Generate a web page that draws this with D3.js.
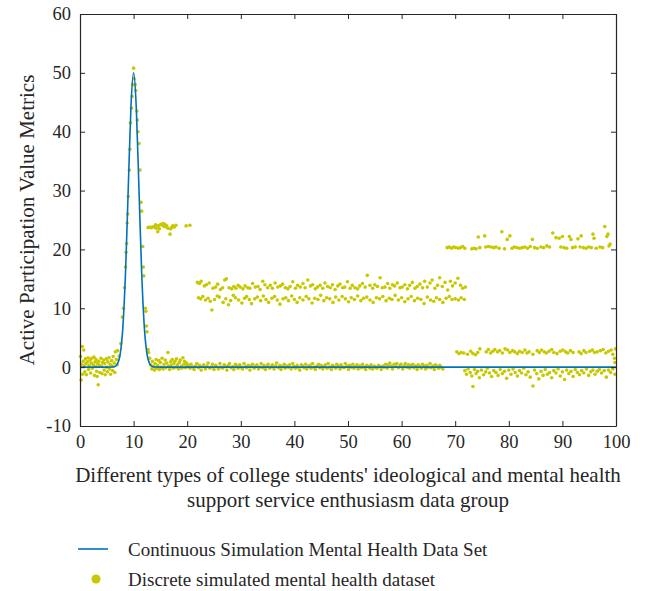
<!DOCTYPE html>
<html>
<head>
<meta charset="utf-8">
<script src="https://cdn.jsdelivr.net/npm/d3@7"></script>
<style>
  body { margin: 0; background: #fff; }
  svg text { font-family: "Liberation Serif", "DejaVu Serif", serif; fill: #262626; }
</style>
</head>
<body>
<div id="chart"></div>
<script>
// axis ranges and tick values
const xTicks = [0, 10, 20, 30, 40, 50, 60, 70, 80, 90, 100];
const yTicks = [-10, 0, 10, 20, 30, 40, 50, 60];
const xTitle = ["Different types of college students' ideological and mental health",
                "support service enthusiasm data group"];
const yTitle = "Active Participation Value Metrics";
const legendLabels = ["Continuous Simulation Mental Health Data Set",
                      "Discrete simulated mental health dataset"];

// continuous curve
const curveX = [0, 5, 6, 6.5, 7, 7.5, 8, 8.5, 9, 9.5, 10, 10.5, 11, 11.5, 12, 12.5, 13, 13.5, 14, 15, 100];
const curveY = [0, 0, 0.02, 0.11, 0.55, 2.2, 6.8, 16.2, 30.3, 44.1, 50, 44.1, 30.3, 16.2, 6.8, 2.2, 0.55, 0.11, 0.02, 0, 0];

// discrete points, grouped by region
const noiseStart = [[0.1,1.8],[0.2,-2.2],[0.3,0.5],[0.4,3.5],[0.5,-1.2],[0.6,1.0],[0.7,2.9],[0.8,0.2],[0.9,-0.8],[1.0,1.4],[1.1,0.6],[1.2,-1.3],[1.4,0.9],[1.5,1.6],[1.6,-0.4],[1.7,0.3],[1.9,1.2],[2.0,-1.0],[2.1,0.7],[2.2,1.5],[2.3,-0.2],[2.5,0.4],[2.6,1.7],[2.7,-1.4],[2.8,0.9],[2.9,0.1],[3.0,1.3],[3.1,-0.7],[3.2,-1.6],[3.3,0.6],[3.4,-3.0],[3.5,1.0],[3.6,0.3],[3.7,-0.9],[3.9,1.5],[4.0,0.2],[4.1,-1.1],[4.2,0.8],[4.4,1.2],[4.5,-0.5],[4.6,0.6],[4.7,-1.3],[4.9,1.4],[5.0,0.0],[5.1,-0.8],[5.2,0.9],[5.4,1.6],[5.5,-0.3],[5.6,0.5],[5.7,-1.2],[5.9,1.1],[6.0,0.2],[6.1,-0.6],[6.2,1.8],[6.4,0.7],[6.5,-0.9],[6.6,2.6],[6.8,1.3],[6.9,0.4]];

const peakPoints = [[7.0,2.8],[7.3,1.9],[7.6,4.0],[7.9,8.5],[8.1,10.0],[8.3,13.5],[8.5,17.0],[8.6,19.5],[8.7,21.0],[8.8,24.5],[8.9,26.0],[9.0,29.0],[9.2,33.5],[9.3,37.0],[9.4,41.5],[9.6,44.0],[9.7,46.0],[9.8,48.0],[10.0,50.8],[10.1,49.0],[10.3,48.0],[10.4,47.0],[10.6,43.5],[10.7,42.0],[10.8,40.0],[11.0,38.0],[11.2,33.5],[11.4,28.0],[11.5,26.5],[11.7,20.5],[11.8,17.0],[11.9,15.5],[12.2,10.0],[12.3,9.5],[12.4,7.0],[12.5,6.0],[12.7,3.0],[12.8,2.5],[13.0,1.5]];

const noiseAfter = [[13.2,0.4],[13.4,-0.3],[13.5,1.0],[13.7,0.1],[13.9,-0.5],[14.0,0.6],[14.2,1.3],[14.3,-0.2],[14.5,0.3],[14.7,1.1],[14.8,-0.4],[15.0,0.8],[15.2,0.0],[15.3,1.5],[15.5,-0.3],[15.7,0.5],[15.9,1.2],[16.0,-0.1],[16.2,0.7],[16.4,2.5],[16.5,0.2],[16.7,-0.4],[16.9,0.9],[17.0,0.3],[17.2,1.3],[17.4,-0.2],[17.5,0.6],[17.7,1.0],[17.9,0.0],[18.0,1.4],[18.2,0.4],[18.4,-0.3],[18.5,0.8],[18.7,1.2],[18.9,0.2],[19.0,-0.2],[19.2,1.6],[19.4,0.5],[19.5,1.0],[19.7,-0.1],[19.9,0.7],[20.0,0.3]];

const flatPoints = [[20.2,0.3],[20.5,-0.2],[20.7,0.5],[21.0,0.0],[21.3,-0.4],[21.5,0.2],[21.8,0.6],[22.1,-0.1],[22.3,0.3],[22.6,-0.5],[22.9,0.1],[23.1,0.4],[23.4,-0.3],[23.7,0.2],[23.9,0.7],[24.2,-0.2],[24.5,0.0],[24.7,0.5],[25.0,-0.4],[25.3,0.3],[25.5,0.1],[25.8,-0.3],[26.1,0.6],[26.3,0.0],[26.6,-0.2],[26.9,0.4],[27.1,0.2],[27.4,-0.5],[27.7,0.3],[27.9,0.6],[28.2,-0.1],[28.5,0.1],[28.7,-0.4],[29.0,0.5],[29.3,0.2],[29.5,-0.2],[29.8,0.4],[30.1,0.0],[30.3,-0.3],[30.6,0.6],[30.9,0.1],[31.1,-0.1],[31.4,0.3],[31.7,-0.5],[31.9,0.2],[32.2,0.5],[32.5,-0.2],[32.7,0.1],[33.0,0.4],[33.3,-0.3],[33.5,0.0],[33.8,0.6],[34.1,-0.1],[34.3,0.3],[34.6,-0.4],[34.9,0.2],[35.1,0.5],[35.4,-0.2],[35.7,0.1],[35.9,0.4],[36.2,-0.3],[36.5,0.2],[36.7,0.7],[37.0,-0.1],[37.3,0.3],[37.5,-0.4],[37.8,0.1],[38.1,0.5],[38.3,-0.2],[38.6,0.2],[38.9,0.0],[39.1,0.4],[39.4,-0.3],[39.7,0.6],[39.9,0.1],[40.2,-0.2],[40.5,0.3],[40.7,0.0],[41.0,-0.5],[41.3,0.4],[41.5,0.2],[41.8,-0.1],[42.1,0.5],[42.3,-0.3],[42.6,0.1],[42.9,0.3],[43.1,-0.2],[43.4,0.6],[43.7,0.0],[43.9,-0.4],[44.2,0.2],[44.5,0.5],[44.7,-0.1],[45.0,0.3],[45.3,-0.3],[45.5,0.1],[45.8,0.4],[46.1,-0.2],[46.3,0.6],[46.6,0.0],[46.9,-0.4],[47.1,0.3],[47.4,0.1],[47.7,-0.2],[47.9,0.5],[48.2,0.2],[48.5,-0.3],[48.7,0.4],[49.0,0.0],[49.3,-0.1],[49.5,0.6],[49.8,0.2],[50.1,-0.4],[50.3,0.3],[50.6,0.0],[50.9,0.5],[51.1,-0.2],[51.4,0.1],[51.7,0.4],[51.9,-0.3],[52.2,0.2],[52.5,-0.1],[52.7,0.5],[53.0,0.0],[53.3,-0.4],[53.5,0.3],[53.8,0.1],[54.1,-0.2],[54.3,0.4],[54.6,-0.3],[54.9,0.2],[55.1,0.0],[55.4,-0.2],[55.7,0.3],[55.9,0.1],[56.2,-0.4],[56.5,0.2],[56.7,0.0],[57.0,0.5],[57.3,-0.2],[57.5,0.4],[57.8,0.7],[58.1,0.2],[58.3,-0.3],[58.6,0.5],[58.9,0.1],[59.1,0.6],[59.4,-0.1],[59.7,0.3],[59.9,0.5],[60.2,-0.3],[60.5,0.2],[60.7,0.6],[61.0,0.0],[61.3,0.4],[61.5,-0.2],[61.8,0.3],[62.1,0.5],[62.3,-0.1],[62.6,0.2],[62.9,-0.4],[63.1,0.4],[63.4,0.1],[63.7,-0.2],[63.9,0.5],[64.2,0.2],[64.5,-0.3],[64.7,0.3],[65.0,0.0],[65.3,0.6],[65.5,-0.1],[65.8,0.2],[66.1,-0.4],[66.3,0.4],[66.6,0.1],[66.9,-0.2],[67.1,0.3],[67.4,0.0],[67.7,-0.3]];

const cluster24 = [[12.7,23.7],[13.0,23.8],[13.3,23.7],[13.6,23.8],[13.9,23.9],[14.1,24.2],[14.2,23.6],[14.5,23.0],[14.6,24.0],[14.8,23.5],[15.0,24.2],[15.2,24.3],[15.4,24.1],[15.6,24.4],[15.7,23.9],[15.9,24.2],[16.1,23.8],[16.2,24.0],[16.4,23.6],[16.8,22.6],[16.9,23.5],[17.1,23.7],[17.3,24.0],[17.6,23.8],[17.9,24.1],[19.8,24.0],[20.5,24.1]];

const band13 = [[21.9,14.4],[22.3,14.2],[22.6,14.6],[23.2,13.8],[23.6,14.0],[24.1,14.3],[24.8,13.4],[25.3,13.6],[25.7,14.1],[26.2,13.2],[26.6,13.5],[27.0,14.8],[27.3,15.0],[27.8,13.5],[28.3,13.3],[28.7,13.7],[29.1,13.4],[29.5,13.9],[29.9,13.6],[30.4,13.3],[30.8,13.8],[31.3,13.5],[31.7,13.4],[32.2,14.2],[32.7,13.6],[33.2,13.7],[33.6,13.2],[34.1,14.6],[34.5,14.0],[35.0,13.5],[35.5,13.9],[35.9,13.4],[36.4,14.3],[36.9,13.6],[37.4,13.8],[37.8,14.1],[38.3,13.5],[38.8,13.3],[39.2,13.7],[39.7,14.5],[40.2,13.4],[40.6,13.9],[41.1,13.6],[41.6,14.2],[42.0,13.5],[42.5,14.8],[43.0,13.8],[43.4,14.0],[43.9,13.3],[44.3,13.6],[44.8,13.9],[45.3,13.4],[45.7,14.3],[46.2,13.7],[46.7,13.5],[47.1,14.0],[47.6,13.2],[48.1,13.8],[48.5,14.1],[49.0,13.5],[49.4,13.6],[49.9,14.5],[50.4,13.4],[50.8,13.9],[51.3,13.5],[51.8,13.3],[52.2,13.8],[52.7,14.2],[53.2,13.6],[53.6,15.6],[54.1,13.9],[54.6,13.4],[55.0,14.0],[55.5,13.7],[56.0,15.2],[56.4,13.5],[56.9,13.6],[57.4,14.2],[57.8,13.4],[58.3,14.0],[58.7,13.8],[59.2,14.3],[59.7,13.5],[60.1,13.6],[60.6,14.0],[61.1,13.3],[61.5,13.9],[62.0,14.4],[62.5,13.4],[62.9,13.7],[63.4,14.1],[63.9,13.5],[64.3,14.6],[64.8,13.6],[65.3,14.3],[65.7,14.8],[66.2,13.4],[66.7,13.9],[67.1,15.2],[67.6,13.7],[68.1,14.4],[68.6,13.1],[69.1,14.6],[69.5,13.8],[70.0,14.3],[70.5,15.1],[71.0,13.9],[71.4,13.4],[71.9,13.6]];

const band11 = [[22.1,11.8],[22.5,11.6],[22.9,12.0],[23.4,11.4],[23.9,11.7],[24.3,11.2],[24.6,9.7],[25.1,11.5],[25.6,12.1],[26.0,11.9],[26.7,11.0],[27.2,11.6],[27.7,10.6],[28.1,11.3],[28.6,12.2],[29.0,11.8],[29.6,11.4],[30.2,10.9],[30.7,11.7],[31.1,12.0],[31.6,11.5],[32.0,10.8],[32.6,11.6],[33.1,11.9],[33.7,11.3],[34.2,12.1],[34.7,11.5],[35.2,11.0],[35.8,11.7],[36.3,12.0],[36.8,11.4],[37.3,10.7],[37.9,11.6],[38.4,11.8],[38.9,11.3],[39.5,12.1],[40.0,11.5],[40.5,11.0],[41.0,11.8],[41.6,11.4],[42.2,12.0],[42.7,11.6],[43.3,10.9],[43.8,11.7],[44.4,11.5],[44.9,12.2],[45.5,11.3],[46.0,11.8],[46.6,11.6],[47.2,11.0],[47.7,11.9],[48.3,11.4],[48.9,12.0],[49.5,11.6],[50.1,11.1],[50.6,11.8],[51.2,11.5],[51.8,12.1],[52.4,11.3],[52.9,11.7],[53.5,11.9],[54.1,11.4],[54.7,11.0],[55.3,11.8],[55.9,11.6],[56.5,12.0],[57.1,11.3],[57.7,11.7],[58.2,11.5],[58.8,12.2],[59.4,11.4],[60.0,11.8],[60.6,11.1],[61.2,11.6],[61.8,12.0],[62.4,11.3],[63.0,11.7],[63.6,11.5],[64.2,10.8],[64.8,11.9],[65.4,11.4],[66.0,11.2],[66.5,11.8],[67.1,11.5],[67.7,11.0],[68.3,11.7],[68.9,12.0],[69.4,11.5],[70.0,11.6],[70.6,11.4],[71.1,11.8],[71.7,11.5]];

const band20 = [[68.5,20.3],[68.9,20.4],[69.3,20.2],[69.7,20.4],[70.1,20.3],[70.6,20.2],[71.0,20.3],[71.4,20.5],[71.8,20.2],[73.1,20.1],[73.5,20.2],[73.9,20.1],[74.3,22.1],[74.6,20.3],[75.5,22.3],[75.7,20.4],[76.2,20.5],[76.7,20.4],[77.2,20.3],[77.6,20.4],[78.2,20.2],[78.7,23.0],[79.2,20.1],[79.7,21.7],[80.2,22.3],[80.6,20.2],[81.0,20.4],[81.5,20.3],[82.0,20.2],[82.5,20.3],[83.0,20.4],[83.5,20.2],[84.0,20.5],[84.4,21.7],[84.8,20.3],[85.3,20.2],[86.0,20.4],[86.5,20.3],[87.1,20.6],[87.6,20.4],[88.2,22.8],[88.8,22.0],[89.4,21.9],[90.0,22.2],[89.7,20.4],[90.3,20.3],[90.8,20.2],[91.3,22.2],[91.6,21.7],[91.9,20.3],[92.4,20.4],[92.9,21.8],[93.5,22.3],[93.3,20.4],[93.9,20.3],[94.4,20.2],[94.9,20.4],[95.4,20.3],[95.7,22.6],[95.9,21.9],[96.3,20.2],[97.0,20.4],[97.5,20.3],[97.9,23.9],[98.3,22.2],[98.5,22.6],[98.7,20.6],[98.9,20.9]];

const band2 = [[70.3,2.6],[70.7,2.3],[71.1,2.5],[71.6,2.4],[72.3,2.2],[72.9,2.7],[73.3,2.3],[73.8,2.1],[74.2,2.5],[74.6,3.1],[75.8,2.6],[76.2,3.0],[76.6,2.4],[77.0,2.7],[77.4,3.0],[77.9,2.6],[78.3,2.8],[78.8,2.4],[79.3,3.1],[79.8,2.9],[80.2,2.5],[80.7,2.8],[81.1,2.6],[81.6,2.3],[82.0,2.7],[82.5,2.5],[83.0,2.9],[83.4,2.4],[83.8,2.6],[84.5,2.2],[85.3,2.8],[85.7,2.5],[86.1,2.9],[86.6,2.6],[87.0,2.4],[87.5,2.7],[88.0,3.0],[88.4,2.5],[89.0,2.3],[89.6,2.7],[90.1,2.9],[90.6,2.6],[91.0,2.4],[91.5,2.8],[92.0,2.5],[93.1,2.6],[93.5,2.3],[94.0,2.8],[94.4,2.5],[95.1,2.7],[95.6,2.9],[96.0,2.5],[96.5,2.6],[97.1,2.8],[97.6,3.0],[98.1,2.4],[98.6,2.7],[99.1,2.9],[99.4,2.2],[99.7,1.5],[99.8,0.8],[99.9,3.1]];

const bandNeg = [[71.8,-0.6],[72.1,-1.2],[72.4,-0.3],[72.8,-0.9],[73.1,-1.5],[73.3,-3.3],[73.6,-0.4],[73.9,-1.1],[74.2,-0.7],[74.5,-1.8],[74.9,-0.5],[75.3,-1.3],[75.7,-0.8],[76.0,-0.2],[76.4,-1.0],[76.8,-1.6],[77.2,-0.6],[77.6,-0.9],[78.0,-1.4],[78.4,-0.4],[78.8,-1.1],[79.2,-0.7],[79.6,-1.9],[80.0,-0.5],[80.4,-1.2],[80.8,-0.3],[81.2,-0.9],[81.6,-1.5],[82.0,-0.6],[82.4,-1.0],[82.8,-0.2],[83.2,-1.3],[83.6,-0.8],[84.0,-1.7],[84.5,-3.2],[84.8,-0.5],[85.2,-1.1],[85.6,-2.0],[86.0,-0.7],[86.4,-1.4],[86.8,-0.4],[87.2,-1.2],[87.6,-0.9],[88.0,-1.8],[88.4,-0.6],[88.8,-1.0],[89.2,-0.3],[89.6,-1.5],[90.0,-0.8],[90.4,-2.1],[90.8,-0.5],[91.2,-1.1],[91.6,-0.7],[92.0,-1.6],[92.4,-0.4],[92.8,-0.9],[93.2,-1.3],[93.6,-0.6],[94.0,-1.0],[94.5,-0.3],[94.9,-1.4],[95.3,-0.8],[95.7,-0.5],[96.1,-1.2],[96.5,-0.7],[96.9,-0.4],[97.3,-1.0],[97.8,-0.6],[98.2,-1.7],[98.6,-0.5],[99.0,-0.9],[99.4,-0.3],[99.8,-1.2]];

function init() {
    const margin = { top: 14, right: 31, bottom: 165, left: 80 },
        w = 647 - margin.left - margin.right,
        h = 591 - margin.top - margin.bottom;

    const lineColor = "#0072bd",
        dotColor = "#c8c800",
        axisColor = "#262626";

    const svg = d3.select("#chart")
        .append("svg")
        .attr("width", 647)
        .attr("height", 591);

    const g = svg.append("g")
        .attr("transform", `translate(${margin.left},${margin.top})`);

    const x = d3.scaleLinear().domain([0, 100]).range([0, w]);
    const y = d3.scaleLinear().domain([-10, 60]).range([h, 0]);

    // scatter points
    const allPoints = [].concat(noiseStart, peakPoints, noiseAfter, flatPoints,
        cluster24, band13, band11, band20, band2, bandNeg);

    g.append("g")
        .selectAll("circle")
        .data(allPoints)
        .enter()
        .append("circle")
        .attr("cx", d => x(d[0]))
        .attr("cy", d => y(d[1]))
        .attr("r", 1.8)
        .attr("fill", dotColor);

    // continuous curve on top
    const curveData = curveX.map((v, i) => [v, curveY[i]]);
    g.append("path")
        .datum(curveData)
        .attr("fill", "none")
        .attr("stroke", lineColor)
        .attr("stroke-width", 1.6)
        .attr("d", d3.line()
            .x(d => x(d[0]))
            .y(d => y(d[1]))
            .curve(d3.curveMonotoneX));

    // axes, ticks pointing inward on all four sides
    const styleAxis = sel => {
        sel.select(".domain").attr("stroke", axisColor).attr("stroke-width", 1.2);
        sel.selectAll(".tick line").attr("stroke", axisColor);
        sel.selectAll("text")
            .style("font-family", "Liberation Serif, serif")
            .style("font-size", "18.5px")
            .attr("fill", axisColor);
    };

    // plain hyphen for negatives, as in the original
    const plain = d => String(d);

    g.append("g")
        .attr("transform", `translate(0,${h})`)
        .call(d3.axisBottom(x).tickValues(xTicks).tickFormat(plain).tickSizeInner(-5).tickSizeOuter(0).tickPadding(9))
        .call(styleAxis);

    g.append("g")
        .call(d3.axisLeft(y).tickValues(yTicks).tickFormat(plain).tickSizeInner(-5).tickSizeOuter(0).tickPadding(9))
        .call(styleAxis);

    g.append("g")
        .call(d3.axisTop(x).tickValues(xTicks).tickSizeInner(-5).tickSizeOuter(0).tickFormat(""))
        .call(styleAxis);

    g.append("g")
        .attr("transform", `translate(${w},0)`)
        .call(d3.axisRight(y).tickValues(yTicks).tickSizeInner(-5).tickSizeOuter(0).tickFormat(""))
        .call(styleAxis);

    // axis titles
    g.append("text")
        .attr("transform", `translate(-53,${h / 2}) rotate(-90)`)
        .attr("text-anchor", "middle")
        .attr("dy", "0.35em")
        .style("font-size", "21px")
        .text(yTitle);

    g.selectAll(".xtitle")
        .data(xTitle)
        .enter()
        .append("text")
        .attr("class", "xtitle")
        .attr("x", w / 2)
        .attr("y", (d, i) => h + 56 + i * 25)
        .attr("text-anchor", "middle")
        .style("font-size", "21px")
        .text(d => d);

    // legend
    const legend = svg.append("g")
        .attr("transform", "translate(78,549)");

    legend.append("line")
        .attr("x1", 0).attr("x2", 30)
        .attr("y1", 0).attr("y2", 0)
        .attr("stroke", lineColor)
        .attr("stroke-width", 1.6);

    legend.append("circle")
        .attr("cx", 18).attr("cy", 30)
        .attr("r", 4.5)
        .attr("fill", dotColor);

    legend.selectAll(".ltext")
        .data(legendLabels)
        .enter()
        .append("text")
        .attr("class", "ltext")
        .attr("x", 50)
        .attr("y", (d, i) => i * 30)
        .attr("dy", "0.35em")
        .style("font-size", "19px")
        .text(d => d);
}

window.onload = init;
</script>
</body>
</html>
